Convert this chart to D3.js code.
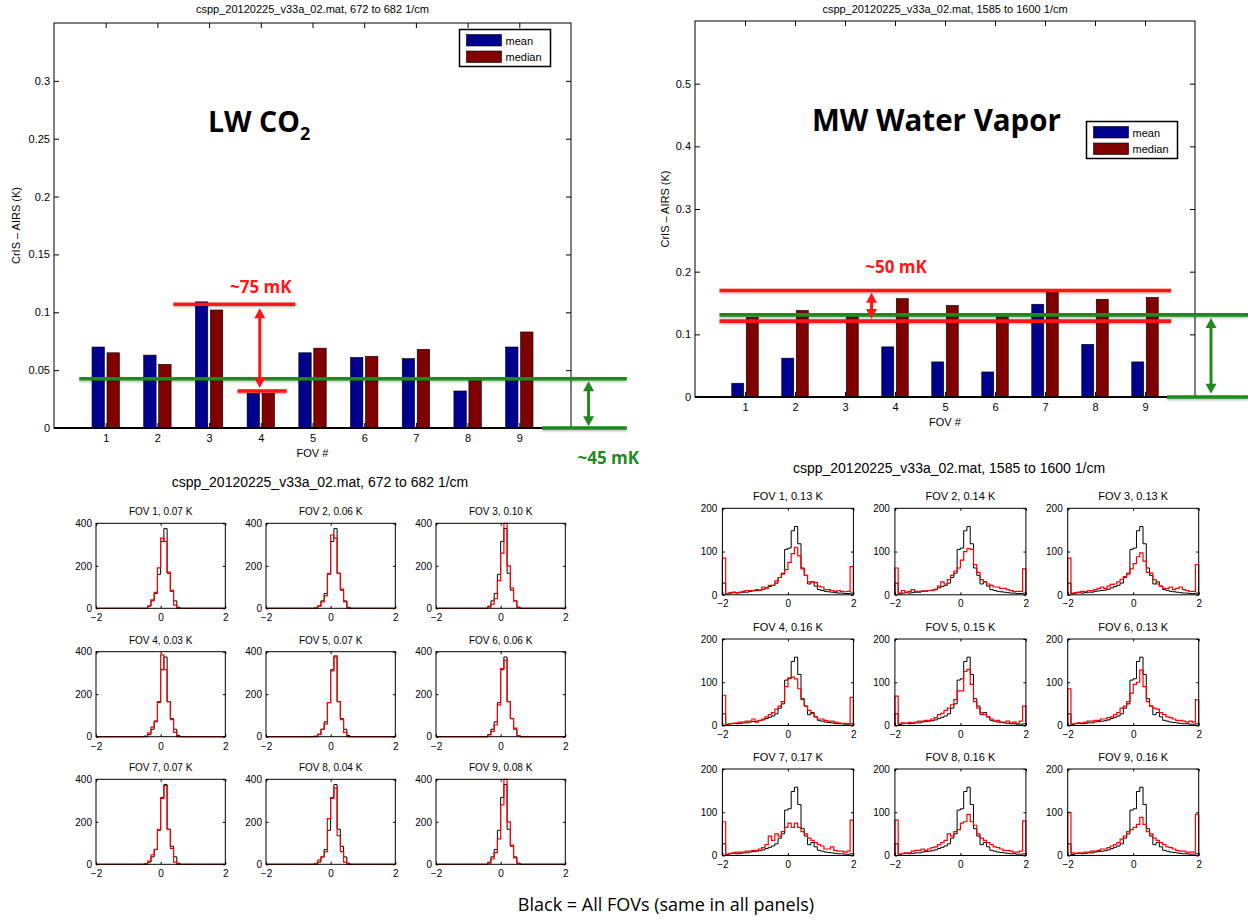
<!DOCTYPE html>
<html>
<head>
<meta charset="utf-8">
<script src="https://cdn.jsdelivr.net/npm/d3@7"></script>
<style>
  body { margin: 0; background: #fff; }
  svg { display: block; }
</style>
</head>
<body>
<svg width="1248" height="920"></svg>
<script>
// ---- data ----
const fovs = [1, 2, 3, 4, 5, 6, 7, 8, 9];

// CrIS - AIRS (K), 672 to 682 1/cm
const lwMean   = [0.070, 0.063, 0.109, 0.030, 0.065, 0.061, 0.060, 0.032, 0.070];
const lwMedian = [0.065, 0.055, 0.102, 0.030, 0.069, 0.062, 0.068, 0.041, 0.083];
const lwTicksY = [0, 0.05, 0.1, 0.15, 0.2, 0.25, 0.3];

// CrIS - AIRS (K), 1585 to 1600 1/cm
const mwMean   = [0.022, 0.062, 0.001, 0.080, 0.056, 0.040, 0.148, 0.084, 0.056];
const mwMedian = [0.127, 0.138, 0.128, 0.157, 0.146, 0.128, 0.168, 0.156, 0.159];
const mwTicksY = [0, 0.1, 0.2, 0.3, 0.4, 0.5];

const lwLabels = ["0.07", "0.06", "0.10", "0.03", "0.07", "0.06", "0.07", "0.04", "0.08"];
const mwLabels = ["0.13", "0.14", "0.13", "0.16", "0.15", "0.13", "0.17", "0.16", "0.16"];

const histTicksX = [-2, 0, 2];
const lwHistTicksY = [0, 200, 400];
const mwHistTicksY = [0, 100, 200];

// histogram bins (left edges .. last right edge)
const lwEdges = [-0.5, -0.4, -0.3, -0.2, -0.1, 0, 0.1, 0.2, 0.3, 0.4, 0.5, 0.6, 0.7];
const lwAll = [0, 10, 35, 70, 160, 315, 375, 165, 85, 35, 5, 0];
const lwFov = [
  [0, 12, 40, 75, 190, 330, 315, 170, 80, 15, 0, 0],
  [3, 12, 30, 60, 165, 345, 330, 165, 90, 30, 0, 0],
  [0, 5, 20, 45, 130, 260, 400, 200, 95, 35, 5, 0],
  [3, 18, 45, 75, 165, 385, 315, 165, 80, 20, 0, 0],
  [3, 12, 35, 60, 160, 310, 380, 165, 80, 20, 0, 0],
  [0, 8, 25, 55, 150, 320, 360, 165, 85, 40, 5, 0],
  [3, 15, 45, 70, 165, 310, 370, 165, 75, 10, 0, 0],
  [5, 20, 35, 60, 215, 310, 360, 135, 60, 10, 0, 0],
  [0, 5, 25, 55, 120, 280, 400, 200, 90, 30, 5, 0]
];

const mwEdges = [-2, -1.9, -1.8, -1.7, -1.6, -1.5, -1.4, -1.3, -1.2, -1.1,
  -1, -0.9, -0.8, -0.7, -0.6, -0.5, -0.4, -0.3, -0.2, -0.1,
  0, 0.1, 0.2, 0.3, 0.4, 0.5, 0.6, 0.7, 0.8, 0.9,
  1, 1.1, 1.2, 1.3, 1.4, 1.5, 1.6, 1.7, 1.8, 1.9, 2];
const mwAll = [27, 2, 4, 5, 4, 5, 6, 6, 8, 9, 10, 11, 13, 16, 19, 22, 27, 40, 50, 105,
  108, 148, 158, 118, 62, 45, 25, 30, 20, 12, 10, 8, 7, 6, 5, 4, 4, 3, 3, 4];
const mwFov = [
  [85, 3, 5, 6, 5, 6, 8, 10, 10, 10, 12, 10, 18, 14, 22, 22, 32, 40, 48, 58,
   75, 95, 110, 90, 60, 45, 30, 30, 28, 20, 18, 12, 12, 10, 8, 10, 8, 7, 8, 65],
  [62, 4, 10, 6, 8, 12, 8, 8, 9, 8, 10, 10, 12, 20, 30, 25, 35, 45, 55, 62,
   80, 100, 107, 105, 70, 52, 35, 30, 25, 22, 18, 18, 15, 15, 12, 10, 8, 8, 8, 60],
  [85, 4, 5, 6, 8, 7, 10, 9, 12, 15, 18, 15, 20, 24, 25, 30, 36, 42, 48, 60,
   72, 88, 97, 78, 52, 50, 35, 25, 20, 15, 15, 18, 12, 15, 18, 12, 10, 8, 8, 70],
  [70, 3, 4, 5, 6, 8, 8, 10, 10, 15, 8, 12, 15, 20, 25, 30, 38, 45, 55, 90,
   110, 112, 108, 85, 60, 45, 35, 28, 20, 15, 15, 12, 10, 10, 8, 6, 5, 5, 4, 65],
  [68, 4, 6, 5, 7, 6, 8, 10, 10, 12, 12, 15, 18, 25, 28, 35, 40, 48, 60, 80,
   80, 125, 130, 95, 55, 40, 30, 25, 20, 15, 10, 12, 8, 8, 10, 6, 8, 5, 10, 45],
  [85, 4, 5, 6, 6, 8, 10, 10, 12, 12, 15, 15, 18, 20, 25, 30, 40, 45, 55, 75,
   95, 100, 128, 90, 55, 45, 40, 38, 30, 25, 20, 18, 15, 12, 12, 10, 8, 10, 8, 60],
  [78, 3, 5, 6, 8, 8, 8, 10, 10, 12, 12, 15, 18, 25, 45, 35, 50, 45, 55, 65,
   75, 65, 75, 65, 55, 50, 40, 35, 30, 25, 22, 15, 15, 20, 12, 10, 10, 8, 10, 82],
  [82, 3, 5, 6, 6, 10, 12, 12, 15, 12, 15, 18, 20, 25, 30, 35, 50, 45, 55, 60,
   75, 78, 95, 78, 70, 50, 40, 35, 30, 25, 20, 18, 15, 12, 12, 10, 8, 8, 10, 80],
  [100, 6, 5, 6, 6, 8, 8, 10, 10, 12, 15, 15, 18, 22, 25, 30, 38, 45, 55, 60,
   65, 72, 88, 72, 55, 50, 40, 35, 30, 25, 20, 18, 15, 12, 10, 10, 8, 8, 8, 95]
];

// annotation marks, in data units of each bar panel
const lwNotes = {
  green: [[0.49, 11.08, 0.0425], [9.44, 11.08, 0]],
  red: [[2.31, 4.67, 0.107], [3.55, 4.5, 0.032]],
  redArrow: [3.98, 0.1035, 0.0345],
  greenArrow: [10.34, 0.0405, 0.0015],
  redText: ["~75 mK", 4.0, 0.117],
  greenText: ["~45 mK", 10.72, -0.031]
};
const mwNotes = {
  green: [[0.49, 11.06, 0.131], [9.44, 11.06, 0]],
  red: [[0.49, 9.52, 0.170], [0.49, 9.52, 0.121]],
  redArrow: [3.53, 0.1665, 0.1245],
  greenArrow: [10.32, 0.126, 0.005],
  redText: ["~50 mK", 4.02, 0.198],
  greenText: null
};

// ---- drawing ----
const FONT = '"Liberation Sans", Arial, Helvetica, sans-serif';
const SLIDE = '"Open Sans", "Noto Sans", sans-serif';
const BLUE = "#00008f", DARKRED = "#800000";
const RED = "#ff1616", GREEN = "#1f8a1f";
const MINUS = d => String(d).replace("-", "\u2212");

const svg = d3.select("svg");
svg.append("rect").attr("width", 1248).attr("height", 920).attr("fill", "#fff");

// user-space filter region: the annotation lines have zero-height boxes
const defs = svg.append("defs");
defs.append("filter").attr("id", "shadow")
  .attr("filterUnits", "userSpaceOnUse")
  .attr("x", 0).attr("y", 0).attr("width", 1248).attr("height", 920)
  .append("feDropShadow")
  .attr("dx", 0).attr("dy", 1.2).attr("stdDeviation", 0.8)
  .attr("flood-color", "#000").attr("flood-opacity", 0.3);

function styleAxis(g, size) {
  g.select(".domain").remove();
  g.attr("font-family", FONT).attr("font-size", size);
  g.selectAll(".tick line").attr("stroke", "#000");
  g.selectAll(".tick text").attr("fill", "#000");
}

function vArrow(g, x, yA, yB, color) {
  const head = 10, half = 5.5;
  g.append("line")
    .attr("x1", x).attr("x2", x).attr("y1", yA + head - 1).attr("y2", yB - head + 1)
    .attr("stroke", color).attr("stroke-width", 3);
  g.append("path")
    .attr("d", `M${x},${yA}L${x - half},${yA + head}L${x + half},${yA + head}Z` +
               `M${x},${yB}L${x - half},${yB - head}L${x + half},${yB - head}Z`)
    .attr("fill", color);
}

function drawBarPanel(p) {
  const x = d3.scaleLinear().domain([0, 10]).range([p.x0, p.x1]);
  const y = d3.scaleLinear().domain([0, p.yMax]).range([p.y1, p.y0]);
  const g = svg.append("g");

  const rows = fovs.map((f, i) => ({ f: f, mean: p.mean[i], median: p.median[i] }));
  const bw = 0.24, off = 0.145;
  g.selectAll("rect.mean").data(rows).join("rect").attr("class", "mean")
    .attr("x", d => x(d.f - off - bw / 2)).attr("width", x(bw) - x(0))
    .attr("y", d => y(d.mean)).attr("height", d => y(0) - y(d.mean))
    .attr("fill", BLUE).attr("stroke", "#000").attr("stroke-width", 0.6);
  g.selectAll("rect.median").data(rows).join("rect").attr("class", "median")
    .attr("x", d => x(d.f + off - bw / 2)).attr("width", x(bw) - x(0))
    .attr("y", d => y(d.median)).attr("height", d => y(0) - y(d.median))
    .attr("fill", DARKRED).attr("stroke", "#000").attr("stroke-width", 0.6);

  // axes, ticks pointing inward on all four sides
  g.append("g").attr("transform", `translate(0,${p.y1})`)
    .call(d3.axisBottom(x).tickValues(fovs).tickSize(-5).tickPadding(6))
    .call(a => styleAxis(a, 11));
  g.append("g").attr("transform", `translate(0,${p.y0})`)
    .call(d3.axisTop(x).tickValues(fovs).tickSize(-5).tickFormat(""))
    .call(a => styleAxis(a, 11));
  g.append("g").attr("transform", `translate(${p.x0},0)`)
    .call(d3.axisLeft(y).tickValues(p.ticksY).tickSize(-5).tickPadding(4).tickFormat(d => String(d)))
    .call(a => styleAxis(a, 11));
  g.append("g").attr("transform", `translate(${p.x1},0)`)
    .call(d3.axisRight(y).tickValues(p.ticksY).tickSize(-5).tickFormat(""))
    .call(a => styleAxis(a, 11));
  g.append("rect")
    .attr("x", p.x0).attr("y", p.y0).attr("width", p.x1 - p.x0).attr("height", p.y1 - p.y0)
    .attr("fill", "none").attr("stroke", "#000").attr("stroke-width", 1);
  g.append("line").attr("x1", p.x0).attr("x2", p.x1).attr("y1", p.y1).attr("y2", p.y1)
    .attr("stroke", "#000").attr("stroke-width", 1.8);

  g.append("text").attr("x", (p.x0 + p.x1) / 2).attr("y", 13)
    .attr("text-anchor", "middle").attr("font-family", FONT).attr("font-size", 11)
    .text(p.title);
  g.append("text").attr("x", (p.x0 + p.x1) / 2).attr("y", p.y1 + 29)
    .attr("text-anchor", "middle").attr("font-family", FONT).attr("font-size", 11)
    .text("FOV #");
  g.append("text")
    .attr("transform", `translate(${p.yLabelX},${(p.y0 + p.y1) / 2}) rotate(-90)`)
    .attr("text-anchor", "middle").attr("font-family", FONT).attr("font-size", 11)
    .text("CrIS \u2013 AIRS (K)");

  // legend
  const lg = g.append("g").attr("transform", `translate(${p.legend[0]},${p.legend[1]})`);
  lg.append("rect").attr("width", 91).attr("height", 37)
    .attr("fill", "#fff").attr("stroke", "#000").attr("stroke-width", 1.5);
  [["mean", BLUE], ["median", DARKRED]].forEach((s, i) => {
    lg.append("rect").attr("x", 7).attr("y", 5 + i * 16.5).attr("width", 35).attr("height", 11.5)
      .attr("fill", s[1]).attr("stroke", "#000").attr("stroke-width", 0.6);
    lg.append("text").attr("x", 46).attr("y", 15 + i * 16.5)
      .attr("font-family", FONT).attr("font-size", 11).text(s[0]);
  });

  // big slide label
  const big = g.append("text").attr("x", p.big[0]).attr("y", p.big[1])
    .attr("font-family", SLIDE).attr("font-weight", 700).attr("font-size", p.bigSize)
    .attr("fill", "#000");
  big.append("tspan").text(p.bigText);
  if (p.bigSub) {
    big.append("tspan").attr("dy", 8).attr("font-size", 18).text(p.bigSub);
  }

  // annotations
  const n = p.notes;
  const ag = g.append("g");
  n.green.forEach(l => {
    ag.append("line").attr("x1", x(l[0])).attr("x2", x(l[1])).attr("y1", y(l[2])).attr("y2", y(l[2]))
      .attr("stroke", GREEN).attr("stroke-width", 3.6).attr("filter", "url(#shadow)");
  });
  n.red.forEach(l => {
    ag.append("line").attr("x1", x(l[0])).attr("x2", x(l[1])).attr("y1", y(l[2])).attr("y2", y(l[2]))
      .attr("stroke", RED).attr("stroke-width", 3.6).attr("filter", "url(#shadow)");
  });
  vArrow(ag, x(n.redArrow[0]), y(n.redArrow[1]), y(n.redArrow[2]), RED);
  vArrow(ag, x(n.greenArrow[0]), y(n.greenArrow[1]), y(n.greenArrow[2]), GREEN);
  ag.append("text").attr("x", x(n.redText[1])).attr("y", y(n.redText[2]))
    .attr("text-anchor", "middle").attr("font-family", SLIDE).attr("font-weight", 700)
    .attr("font-size", 17).attr("fill", RED).text(n.redText[0]);
  if (n.greenText) {
    ag.append("text").attr("x", x(n.greenText[1])).attr("y", y(n.greenText[2]))
      .attr("text-anchor", "middle").attr("font-family", SLIDE).attr("font-weight", 700)
      .attr("font-size", 17).attr("fill", GREEN).text(n.greenText[0]);
  }
}

function stairs(edges, counts) {
  const pts = [[-2, 0], [edges[0], 0]];
  counts.forEach((c, i) => { pts.push([edges[i], c]); pts.push([edges[i + 1], c]); });
  pts.push([edges[edges.length - 1], 0]);
  pts.push([2, 0]);
  return pts;
}

function drawHist(h) {
  const x = d3.scaleLinear().domain([-2, 2]).range([h.x0, h.x0 + h.w]);
  const y = d3.scaleLinear().domain([0, h.yMax]).range([h.y0 + h.h, h.y0]);
  const g = svg.append("g");
  const line = d3.line().x(d => x(d[0])).y(d => y(d[1]));

  g.append("path").attr("d", line(stairs(h.edges, h.all)))
    .attr("fill", "none").attr("stroke", "#000").attr("stroke-width", 1);
  g.append("path").attr("d", line(stairs(h.edges, h.fov)))
    .attr("fill", "none").attr("stroke", "#ff0000").attr("stroke-width", 1.2);

  g.append("g").attr("transform", `translate(0,${h.y0 + h.h})`)
    .call(d3.axisBottom(x).tickValues(histTicksX).tickSize(-2.5).tickPadding(h.padX).tickFormat(MINUS))
    .call(a => styleAxis(a, 10));
  g.append("g").attr("transform", `translate(0,${h.y0})`)
    .call(d3.axisTop(x).tickValues(histTicksX).tickSize(-2.5).tickFormat(""))
    .call(a => styleAxis(a, 10));
  g.append("g").attr("transform", `translate(${h.x0},0)`)
    .call(d3.axisLeft(y).tickValues(h.ticksY).tickSize(-2.5).tickPadding(h.padY))
    .call(a => styleAxis(a, 10));
  g.append("g").attr("transform", `translate(${h.x0 + h.w},0)`)
    .call(d3.axisRight(y).tickValues(h.ticksY).tickSize(-2.5).tickFormat(""))
    .call(a => styleAxis(a, 10));
  g.append("rect").attr("x", h.x0).attr("y", h.y0).attr("width", h.w).attr("height", h.h)
    .attr("fill", "none").attr("stroke", "#000").attr("stroke-width", 1);

  g.append("text").attr("x", h.x0 + h.w / 2).attr("y", h.y0 - 8)
    .attr("text-anchor", "middle").attr("font-family", FONT).attr("font-size", h.titleSize)
    .text(h.title);
}

drawBarPanel({
  x0: 54, x1: 571, y0: 23, y1: 428, yMax: 0.35, ticksY: lwTicksY,
  mean: lwMean, median: lwMedian,
  title: "cspp_20120225_v33a_02.mat, 672 to 682 1/cm",
  yLabelX: 20,
  legend: [459.5, 29.5],
  big: [208, 132], bigSize: 28.5, bigText: "LW CO", bigSub: "2",
  notes: lwNotes
});

drawBarPanel({
  x0: 695, x1: 1195, y0: 21, y1: 397, yMax: 0.6, ticksY: mwTicksY,
  mean: mwMean, median: mwMedian,
  title: "cspp_20120225_v33a_02.mat, 1585 to 1600 1/cm",
  yLabelX: 669,
  legend: [1086.5, 121.5],
  big: [812, 131], bigSize: 29.5, bigText: "MW Water Vapor", bigSub: null,
  notes: mwNotes
});

// histogram grids
const lwCols = [96, 266, 436], lwRows = [523.3, 651.7, 779.3];
const mwCols = [722.4, 894.9, 1067.7], mwRows = [508.3, 639, 769];

fovs.forEach((f, i) => {
  const c = i % 3, r = Math.floor(i / 3);
  drawHist({
    x0: lwCols[c], y0: lwRows[r], w: 129.3, h: 85, yMax: 400, ticksY: lwHistTicksY,
    edges: lwEdges, all: lwAll, fov: lwFov[i], padX: 6, padY: 4, titleSize: 10,
    title: `FOV ${f}, ${lwLabels[i]} K`
  });
  drawHist({
    x0: mwCols[c], y0: mwRows[r], w: 131, h: 86.5, yMax: 200, ticksY: mwHistTicksY,
    edges: mwEdges, all: mwAll, fov: mwFov[i], padX: 5, padY: 5, titleSize: 11,
    title: `FOV ${f}, ${mwLabels[i]} K`
  });
});

svg.append("text").attr("x", 320).attr("y", 487).attr("text-anchor", "middle")
  .attr("font-family", FONT).attr("font-size", 14)
  .text("cspp_20120225_v33a_02.mat, 672 to 682 1/cm");
svg.append("text").attr("x", 949).attr("y", 473).attr("text-anchor", "middle")
  .attr("font-family", FONT).attr("font-size", 14)
  .text("cspp_20120225_v33a_02.mat, 1585 to 1600 1/cm");

svg.append("text").attr("x", 666).attr("y", 911).attr("text-anchor", "middle")
  .attr("font-family", SLIDE).attr("font-size", 18)
  .text("Black = All FOVs (same in all panels)");
</script>
</body>
</html>
